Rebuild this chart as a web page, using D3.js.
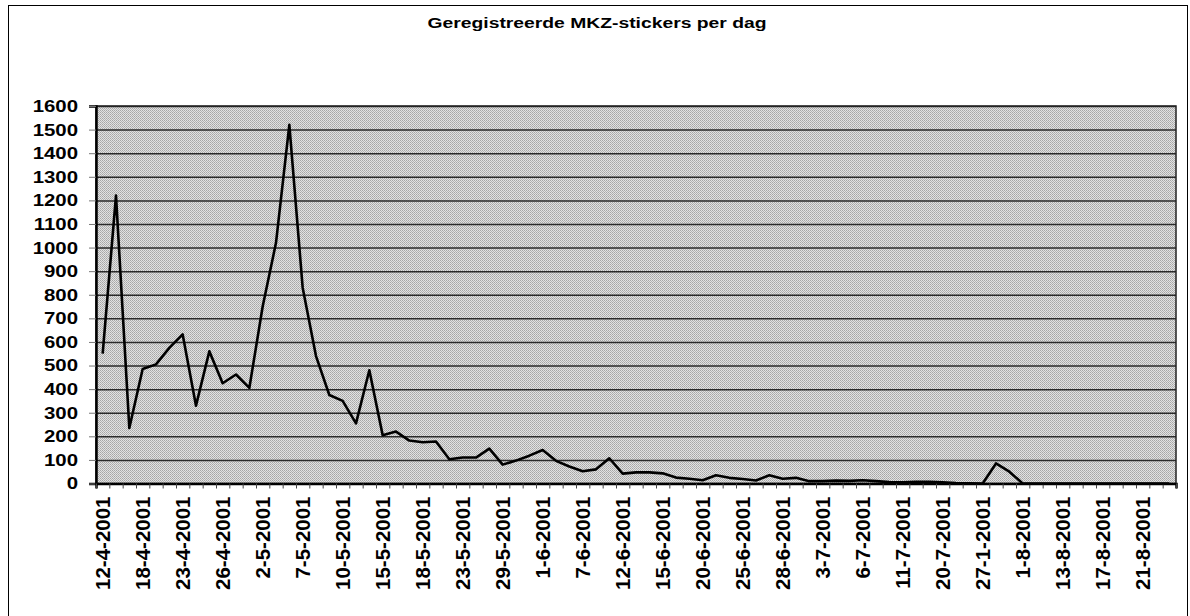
<!DOCTYPE html>
<html>
<head>
<meta charset="utf-8">
<script src="https://cdn.jsdelivr.net/npm/d3@7"></script>
<style>
  body { margin: 0; background: #fff; }
  text { font-family: "Liberation Sans", Arial, sans-serif; font-weight: bold; fill: #000; }
</style>
</head>
<body>
<div id="chart"></div>
<script>
// tick labels (every 3rd day on the category axis)
var tickLabels = [
  "12-4-2001", "18-4-2001", "23-4-2001", "26-4-2001", "2-5-2001", "7-5-2001",
  "10-5-2001", "15-5-2001", "18-5-2001", "23-5-2001", "29-5-2001", "1-6-2001",
  "7-6-2001", "12-6-2001", "15-6-2001", "20-6-2001", "25-6-2001", "28-6-2001",
  "3-7-2001", "6-7-2001", "11-7-2001", "20-7-2001", "27-1-2001", "1-8-2001",
  "13-8-2001", "17-8-2001", "21-8-2001"
];

// registered stickers per day (81 days)
var counts = [
  550, 1220, 235, 485, 505, 575, 632, 330, 560, 425,
  462, 405, 750, 1020, 1520, 830, 540, 375, 350, 255,
  480, 205, 220, 182, 175, 178, 103, 110, 110, 148,
  80, 97, 118, 142, 96, 72, 52, 60, 107, 42,
  47, 47, 43, 25, 20, 14, 35, 24, 19, 13,
  35, 20, 24, 10, 10, 12, 11, 14, 10, 6,
  5, 7, 7, 5, 2, 1, 0, 85, 50, 0,
  0, 0, 0, 0, 0, 0, 0, 0, 0, 0, 0
];

var yTicks = d3.range(0, 1601, 100);

var width = 1190;
var height = 616;

var plotLeft = 96;
var plotRight = 1176;
var plotTop = 106;
var plotBottom = 483.5;

var svg = d3
  .select("#chart")
  .append("svg")
  .attr("width", width)
  .attr("height", height);

// halftone-like background of the plot area
var defs = svg.append("defs");
var pat = defs
  .append("pattern")
  .attr("id", "dots")
  .attr("width", 2)
  .attr("height", 2)
  .attr("patternUnits", "userSpaceOnUse");
pat.append("rect").attr("width", 2).attr("height", 2).attr("fill", "#e2e2e2");
pat.append("rect").attr("width", 1).attr("height", 1).attr("fill", "#a6a6a6");
pat.append("rect").attr("x", 1).attr("y", 1).attr("width", 1).attr("height", 1).attr("fill", "#b4b4b4");

// outer chart border
svg
  .append("rect")
  .attr("x", 8.5)
  .attr("y", 5.5)
  .attr("width", 1179)
  .attr("height", 700)
  .attr("fill", "none")
  .attr("stroke", "#000")
  .attr("stroke-width", 1);

svg
  .append("text")
  .attr("x", 597)
  .attr("y", 28)
  .attr("text-anchor", "middle")
  .attr("font-size", 14.5)
  .attr("textLength", 339)
  .attr("lengthAdjust", "spacingAndGlyphs")
  .text("Geregistreerde MKZ-stickers per dag");

var xScale = d3
  .scaleBand()
  .domain(d3.range(counts.length))
  .range([plotLeft, plotRight])
  .padding(0);

var xEdge = d3
  .scaleLinear()
  .domain([0, counts.length])
  .range([plotLeft, plotRight]);

var yScale = d3
  .scaleLinear()
  .domain([0, 1600])
  .range([plotBottom, plotTop]);

svg
  .append("rect")
  .attr("x", plotLeft)
  .attr("y", plotTop)
  .attr("width", plotRight - plotLeft)
  .attr("height", plotBottom - plotTop)
  .attr("fill", "url(#dots)");

// gridlines
var grid = svg
  .append("g")
  .attr("class", "grid")
  .attr("transform", "translate(" + plotLeft + ",0)")
  .call(d3.axisLeft(yScale).tickValues(yTicks).tickSize(-(plotRight - plotLeft)).tickFormat(""));
grid.select(".domain").remove();
grid.selectAll("line").attr("stroke", "#2a2a2a").attr("stroke-width", 1.5);

// plot border
svg
  .append("rect")
  .attr("x", plotLeft)
  .attr("y", plotTop)
  .attr("width", plotRight - plotLeft)
  .attr("height", plotBottom - plotTop)
  .attr("fill", "none")
  .attr("stroke", "#222")
  .attr("stroke-width", 1.5);

// y axis
var yAxis = svg
  .append("g")
  .attr("transform", "translate(" + plotLeft + ",0)")
  .call(d3.axisLeft(yScale).tickValues(yTicks).tickSize(7).tickPadding(8).tickFormat(d3.format("d")));
yAxis.select(".domain").attr("stroke", "#000").attr("stroke-width", 2.5);
yAxis.selectAll("line").attr("stroke", "#777").attr("stroke-width", 1);
yAxis
  .selectAll("text")
  .attr("font-size", 17)
  .attr("transform", "scale(1.2,1)");

// x axis tick marks between categories
var xTickAxis = svg
  .append("g")
  .attr("transform", "translate(0," + plotBottom + ")")
  .call(d3.axisBottom(xEdge).tickValues(d3.range(counts.length + 1)).tickSize(5).tickFormat(""));
xTickAxis.select(".domain").attr("stroke", "#000").attr("stroke-width", 2.5);
xTickAxis.selectAll("line").attr("stroke", "#444").attr("stroke-width", 1);

// x axis labels
var xLabelAxis = svg
  .append("g")
  .attr("transform", "translate(0," + plotBottom + ")")
  .call(
    d3
      .axisBottom(xScale)
      .tickValues(d3.range(0, counts.length, 3))
      .tickSize(0)
      .tickFormat(function(i) {
        return tickLabels[i / 3];
      })
  );
xLabelAxis.select(".domain").remove();
xLabelAxis
  .selectAll("text")
  .attr("font-size", 20.5)
  .attr("text-anchor", "end")
  .attr("transform", "rotate(-90)")
  .attr("x", -13)
  .attr("y", 0)
  .attr("dy", "0.36em");

// the line
var line = d3
  .line()
  .x(function(d, i) {
    return xScale(i) + xScale.bandwidth() / 2;
  })
  .y(function(d) {
    return yScale(d);
  });

svg
  .append("path")
  .datum(counts)
  .attr("d", line)
  .attr("fill", "none")
  .attr("stroke", "#000")
  .attr("stroke-width", 2.6)
  .attr("stroke-linejoin", "round");
</script>
</body>
</html>
